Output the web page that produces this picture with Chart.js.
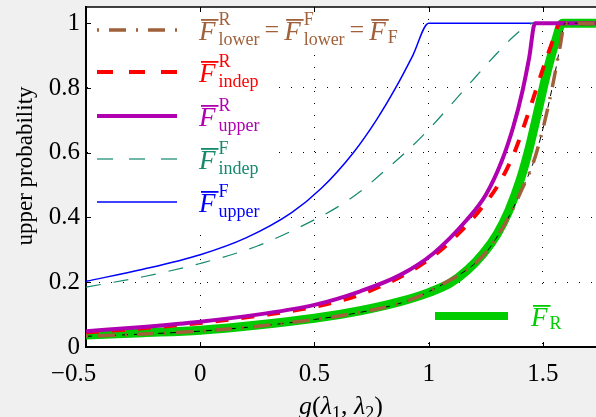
<!DOCTYPE html>
<html>
<head>
<meta charset="utf-8">
<script src="https://cdn.jsdelivr.net/npm/chart.js@4"></script>
<style>
  html, body { margin: 0; padding: 0; background: #f0f0f0; overflow: hidden; }
  canvas { display: block; }
</style>
</head>
<body>
<canvas id="chart" width="596" height="417"></canvas>
<script>
// axis ticks
const xTicks = [-0.5, 0, 0.5, 1, 1.5];
const yTicks = [0, 0.2, 0.4, 0.6, 0.8, 1];

// upper probability curves
const gLower = [-0.5, -0.25, 0, 0.25, 0.5, 0.7, 0.874, 0.962, 1.064, 1.194, 1.26, 1.312, 1.36, 1.40, 1.458, 1.50, 1.54, 1.574, 1.596, 1.74];
const pLower = [0.033, 0.04, 0.049, 0.064, 0.085, 0.107, 0.135, 0.158, 0.195, 0.253, 0.30, 0.355, 0.415, 0.475, 0.57, 0.675, 0.80, 0.925, 1.0, 1.0];

const gIndepR = [-0.5, -0.25, 0, 0.25, 0.5, 0.7, 0.918, 1.035, 1.13, 1.224, 1.312, 1.38, 1.43, 1.47, 1.51, 1.545, 1.575, 1.74];
const pIndepR = [0.045, 0.058, 0.074, 0.096, 0.124, 0.162, 0.233, 0.289, 0.35, 0.423, 0.51, 0.61, 0.71, 0.795, 0.88, 0.95, 1.0, 1.0];

const gUpperR = [-0.5, -0.25, 0, 0.25, 0.5, 0.7, 0.874, 1.02, 1.166, 1.25, 1.32, 1.37, 1.41, 1.44, 1.465, 1.74];
const pUpperR = [0.049, 0.062, 0.078, 0.100, 0.13, 0.172, 0.222, 0.289, 0.392, 0.47, 0.575, 0.68, 0.79, 0.895, 1.0, 1.0];

const gIndepF = [-0.5, -0.25, 0, 0.25, 0.5, 0.6, 0.7, 0.8, 0.9, 1.0, 1.1, 1.2, 1.3, 1.37, 1.42, 1.46, 1.74];
const pIndepF = [0.185, 0.217, 0.258, 0.312, 0.393, 0.432, 0.48, 0.54, 0.602, 0.672, 0.75, 0.83, 0.908, 0.958, 0.987, 1.0, 1.0];

const gUpperF = [-0.5, -0.25, 0, 0.2, 0.4, 0.53, 0.67, 0.77, 0.855, 0.93, 1.0, 1.74];
const pUpperF = [0.203, 0.24, 0.285, 0.337, 0.415, 0.49, 0.60, 0.70, 0.80, 0.90, 1.0, 1.0];

const gR = [-0.5, -0.25, 0, 0.25, 0.5, 0.7, 0.874, 1.0, 1.093, 1.17, 1.239, 1.30, 1.35, 1.40, 1.44, 1.48, 1.516, 1.553, 1.585, 1.74];
const pR = [0.037, 0.044, 0.052, 0.068, 0.089, 0.112, 0.14, 0.168, 0.197, 0.238, 0.289, 0.35, 0.42, 0.515, 0.615, 0.735, 0.845, 0.94, 1.0, 1.0];

const LS = "'Liberation Serif', 'Times New Roman', serif";
const BROWN = '#a0603a', RED = '#ff0000', MAGENTA = '#b000b0', TEAL = '#14896e', BLUE = '#0000ff', GREEN = '#00cc00';

const pts = (gs, ps) => gs.map((g, i) => ({ x: g, y: ps[i] }));
const line = (data, color, width, dash) => ({
  data, borderColor: color, borderWidth: width, borderDash: dash || [],
  pointRadius: 0, fill: false, cubicInterpolationMode: 'monotone'
});

// legend rows: [F, superscript, subscript] groups and '=' signs
const legendRows = [
  { y: 30, color: BROWN, width: 3.5, dash: [2, 10, 17, 10],
    label: [['F', 'R', 'lower'], '=', ['F', 'F', 'lower'], '=', ['F', null, 'F']] },
  { y: 72, color: RED, width: 4, dash: [16, 16], label: [['F', 'R', 'indep']] },
  { y: 116, color: MAGENTA, width: 4, dash: [], label: [['F', 'R', 'upper']] },
  { y: 159, color: TEAL, width: 1.2, dash: [16, 16], label: [['F', 'F', 'indep']] },
  { y: 202, color: BLUE, width: 1.5, dash: [], label: [['F', 'F', 'upper']] }
];

function drawLabel(ctx, x, base, parts, draw) {
  parts.forEach(p => {
    if (p === '=') {
      ctx.font = '26px ' + LS;
      const w = ctx.measureText('=').width;
      if (draw) ctx.fillText('=', x + 5, base - 2);
      x += w + 10;
      return;
    }
    const [t, sup, sub] = p;
    ctx.font = 'italic 27px ' + LS;
    const wF = ctx.measureText(t).width;
    if (draw) {
      ctx.fillText(t, x, base);
      ctx.fillRect(x + 2, base - 21, wF + 1, 1.8);
    }
    ctx.font = '18px ' + LS;
    const x2 = x + wF + 3;
    let w = 0;
    if (sup) { w = Math.max(w, ctx.measureText(sup).width); if (draw) ctx.fillText(sup, x2, base - 15); }
    if (sub) { w = Math.max(w, ctx.measureText(sub).width); if (draw) ctx.fillText(sub, x2 - (sup ? 0 : 1), base + (sup ? 5 : 3)); }
    x = x2 + w;
  });
  return x;
}

const TEXT_X = 199, SAMPLE_X0 = 97, SAMPLE_X1 = 177;
const R_LINE_Y = 316, R_X0 = 435, R_X1 = 508, R_TEXT_X = 531;

const plotFrame = {
  id: 'plotFrame',
  beforeDraw(chart) {
    const { ctx, chartArea: a } = chart;
    ctx.save();
    ctx.fillStyle = '#ffffff';
    ctx.fillRect(a.left, a.top, a.right - a.left, a.bottom - a.top);
    ctx.restore();
  },
  beforeDatasetsDraw(chart) {
    // legend entries sit on white boxes that hide the grid
    const ctx = chart.ctx;
    ctx.save();
    ctx.fillStyle = '#ffffff';
    legendRows.forEach(r => {
      const end = drawLabel(ctx, TEXT_X, r.y + 10, r.label, false);
      ctx.fillRect(88, r.y - 21, end + 14 - 88, 45);
    });
    ctx.fillRect(425, R_LINE_Y - 23, 155, 45);
    ctx.restore();
  },
  afterDraw(chart) {
    const { ctx, chartArea: a } = chart;
    const xs = chart.scales.x, ys = chart.scales.y;
    ctx.save();
    // inward tick marks + top frame line
    ctx.strokeStyle = '#000';
    ctx.lineWidth = 1;
    ctx.beginPath();
    xTicks.forEach(v => {
      const px = Math.round(xs.getPixelForValue(v)) + 0.5;
      ctx.moveTo(px, a.bottom); ctx.lineTo(px, a.bottom - 5);
      ctx.moveTo(px, a.top); ctx.lineTo(px, a.top + 5);
    });
    yTicks.forEach(v => {
      const py = Math.round(ys.getPixelForValue(v)) + 0.5;
      ctx.moveTo(a.left, py); ctx.lineTo(a.left + 5, py);
    });
    ctx.stroke();
    ctx.lineWidth = 1.5;
    ctx.beginPath(); ctx.moveTo(a.left, a.top); ctx.lineTo(a.right, a.top); ctx.stroke();

    // legend
    legendRows.forEach(r => {
      ctx.strokeStyle = r.color; ctx.lineWidth = r.width; ctx.setLineDash(r.dash);
      ctx.beginPath(); ctx.moveTo(SAMPLE_X0, r.y); ctx.lineTo(SAMPLE_X1, r.y); ctx.stroke();
      ctx.setLineDash([]);
      ctx.fillStyle = r.color;
      drawLabel(ctx, TEXT_X, r.y + 10, r.label, true);
    });
    ctx.strokeStyle = GREEN; ctx.lineWidth = 8;
    ctx.beginPath(); ctx.moveTo(R_X0, R_LINE_Y); ctx.lineTo(R_X1, R_LINE_Y); ctx.stroke();
    ctx.fillStyle = GREEN;
    drawLabel(ctx, R_TEXT_X, R_LINE_Y + 10, [['F', null, 'R']], true);

    // axis titles
    ctx.fillStyle = '#000';
    ctx.save();
    ctx.translate(32, 166);
    ctx.rotate(-Math.PI / 2);
    ctx.font = '23px ' + LS;
    ctx.textAlign = 'center';
    ctx.fillText('upper probability', 0, 0);
    ctx.restore();

    const parts = [['g', 'italic 26px ', 0], ['(', '26px ', 0], ['λ', 'italic 26px ', 0], ['1', '18px ', 5],
                   [', ', '26px ', 0], ['λ', 'italic 26px ', 0], ['2', '18px ', 5], [')', '26px ', 0]];
    let total = 0;
    parts.forEach(p => { ctx.font = p[1] + LS; total += ctx.measureText(p[0]).width; });
    let x = (a.left + a.right) / 2 - total / 2;
    const base = 414;
    parts.forEach(p => {
      ctx.font = p[1] + LS;
      ctx.fillText(p[0], x, base + p[2]);
      x += ctx.measureText(p[0]).width;
    });
    ctx.restore();
  }
};

const gridStyle = { color: '#000', lineWidth: 1, drawTicks: false };
const borderStyle = { display: true, color: '#000', width: 2, dash: [1, 11] };

new Chart(document.getElementById('chart'), {
  type: 'line',
  data: {
    datasets: [
      line(pts(gLower, pLower), BROWN, 3.5, [2, 10, 17, 10]),
      line(pts(gLower, pLower), '#000', 1, [6, 6]),
      line(pts(gUpperR, pUpperR), MAGENTA, 4),
      line(pts(gIndepR, pIndepR), RED, 4, [13, 13]),
      line(pts(gR, pR), GREEN, 9),
      line(pts(gIndepF, pIndepF), TEAL, 1.2, [15, 13]),
      line(pts(gUpperF, pUpperF), BLUE, 1.5)
    ]
  },
  options: {
    responsive: false,
    devicePixelRatio: 1,
    animation: false,
    layout: { padding: { top: 7, right: 0, bottom: 0, left: 0 } },
    plugins: { legend: { display: false }, tooltip: { enabled: false } },
    scales: {
      x: {
        type: 'linear', min: -0.5, max: 1.732,
        grid: gridStyle, border: borderStyle,
        afterBuildTicks: s => { s.ticks = xTicks.map(v => ({ value: v })); },
        afterFit: s => { s.height = 70; s.paddingLeft = 0; s.paddingRight = 0; },
        ticks: {
          color: '#000', padding: 12, maxRotation: 0, autoSkip: false,
          font: { family: LS, size: 25 },
          // the first label sits a little left of its tick in the reference
          callback: v => (v < 0 ? '\u2212' + Math.abs(v) + '    ' : String(v))
        }
      },
      y: {
        type: 'linear', min: 0, max: 1.05,
        grid: gridStyle, border: borderStyle,
        afterBuildTicks: s => { s.ticks = yTicks.map(v => ({ value: v })); },
        afterFit: s => { s.width = 86; s.paddingTop = 0; s.paddingBottom = 0; },
        ticks: {
          color: '#000', padding: 6,
          font: { family: LS, size: 25 },
          callback: v => String(v)
        }
      }
    }
  },
  plugins: [plotFrame]
});
</script>
</body>
</html>
